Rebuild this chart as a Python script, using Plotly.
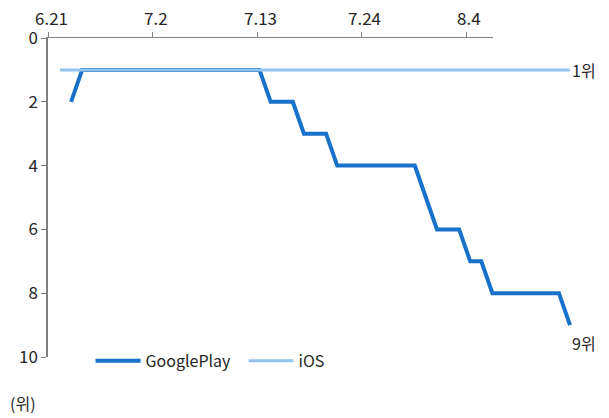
import pandas as pd
import plotly.graph_objects as go

# Daily store ranking, 6/21 - 8/6
dates = pd.date_range("2023-06-21", "2023-08-06", freq="D")
google_play = ([None, 2] + [1] * 17 + [2] * 3 + [3] * 3 + [4] * 8 + [5]
               + [6] * 3 + [7] * 2 + [8] * 7 + [9])
ios = [1] * len(dates)

tick_dates = ["2023-06-21", "2023-07-02", "2023-07-13", "2023-07-24", "2023-08-04"]
tick_labels = ["6.21", "7.2", "7.13", "7.24", "8.4"]
y_ticks = [0, 2, 4, 6, 8, 10]

FONT = "Noto Sans CJK KR, Noto Sans, sans-serif"
DARK_BLUE = "#1872CA"
LIGHT_BLUE = "#92C4F1"
AXIS_GREY = "#7F7F7F"
TEXT = "#262626"

day = pd.Timedelta(days=1)
date_start = pd.Timestamp(dates[0])
# top axis positions expressed as days since the first date
tick_days = [(pd.Timestamp(d) - date_start) / day for d in tick_dates]

fig = go.Figure()
# empty trace so the top date axis gets drawn
fig.add_trace(go.Scatter(
    x=[tick_days[0]], y=[None], mode="lines", showlegend=False,
    hoverinfo="skip", xaxis="x", yaxis="y",
))
fig.add_trace(go.Scatter(
    x=dates, y=google_play, name="GooglePlay", mode="lines",
    line=dict(color=DARK_BLUE, width=4), xaxis="x2", yaxis="y",
))
fig.add_trace(go.Scatter(
    x=dates, y=ios, name="iOS", mode="lines",
    line=dict(color=LIGHT_BLUE, width=3), xaxis="x2", yaxis="y",
))

# date labels above the top axis ticks
for pos, label in zip(tick_days, tick_labels):
    fig.add_annotation(x=pos, y=1, xref="x", yref="paper", text=label,
                       showarrow=False, xanchor="center", yanchor="bottom",
                       xshift=3, yshift=6, font=dict(size=17, color=TEXT))

# end-of-series labels
fig.add_annotation(x=dates[-1], y=ios[-1], xref="x2", yref="y", text="1위",
                   showarrow=False, xanchor="left", yanchor="middle", xshift=0,
                   font=dict(size=16, color=TEXT))
fig.add_annotation(x=dates[-1], y=google_play[-1], xref="x2", yref="y", text="9위",
                   showarrow=False, xanchor="left", yanchor="top", xshift=0, yshift=-4,
                   font=dict(size=16, color=TEXT))
fig.add_annotation(x=-0.075, y=-0.145, xref="paper", yref="paper", text="(위)",
                   showarrow=False, xanchor="left", yanchor="middle",
                   font=dict(size=16, color=TEXT))

fig.update_layout(
    width=609, height=418,
    margin=dict(l=48, r=29, t=38, b=61, autoexpand=False),
    paper_bgcolor="white", plot_bgcolor="white",
    font=dict(family=FONT, size=16, color=TEXT),
    showlegend=True,
    legend=dict(orientation="h", x=0.08, y=-0.012, xanchor="left", yanchor="middle",
                font=dict(size=16, color=TEXT), bgcolor="rgba(0,0,0,0)",
                itemwidth=45, entrywidth=93, traceorder="normal"),
    # date axis along the top edge
    xaxis=dict(
        domain=[0, 445 / 532], anchor="y", side="top", automargin=False,
        type="linear", range=[0, 46.84],
        tickvals=tick_days, showticklabels=False,
        ticks="outside", ticklen=5, tickcolor=AXIS_GREY, tickwidth=1,
        showline=True, linecolor=AXIS_GREY, linewidth=1.2,
        showgrid=False, zeroline=False,
    ),
    # data axis spanning the full width
    xaxis2=dict(
        domain=[0, 1], anchor="y", visible=False, type="date", automargin=False,
        range=[date_start - 1.08 * day, pd.Timestamp(dates[-1]) + 0.9 * day],
    ),
    yaxis=dict(
        domain=[0, 1], anchor="x", range=[10, 0], automargin=False,
        tickvals=y_ticks, ticks="outside", ticklen=5, tickcolor=AXIS_GREY,
        showline=True, linecolor=AXIS_GREY, linewidth=1.5,
        showgrid=False, zeroline=False, tickfont=dict(size=17),
    ),
)

fig.write_html("out.html")
